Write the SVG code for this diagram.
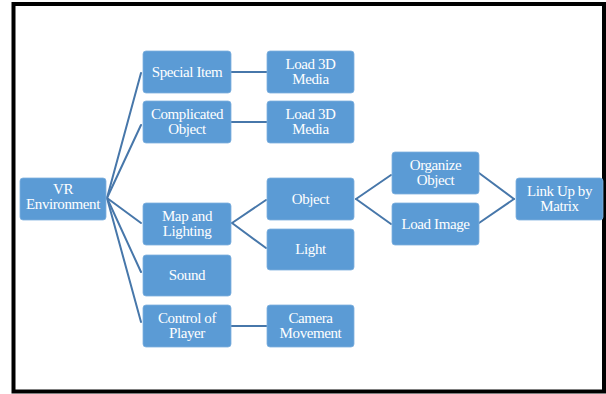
<svg xmlns="http://www.w3.org/2000/svg" width="606" height="394" viewBox="0 0 606 394">
<style>
.n rect{fill:#5B9BD5;stroke:#7fb0de;stroke-width:0.8}
.n text{fill:#ffffff;font-family:"Liberation Serif","Times New Roman",serif;font-size:15px;text-anchor:middle;letter-spacing:-0.4px}
.c line{stroke:#4777aa;stroke-width:2;stroke-linecap:round}
</style>
<rect x="0" y="0" width="606" height="394" fill="#ffffff"/>
<rect x="13.5" y="4" width="590.5" height="387.5" fill="none" stroke="#000000" stroke-width="4"/>
<g id="connectors" class="c">
<line x1="107" y1="198" x2="141" y2="73"/>
<line x1="107" y1="198" x2="141" y2="125"/>
<line x1="107" y1="198" x2="141" y2="223"/>
<line x1="107" y1="198" x2="141" y2="272"/>
<line x1="107" y1="198" x2="141" y2="322"/>
<line x1="231" y1="72" x2="267" y2="72"/>
<line x1="231" y1="122" x2="267" y2="122"/>
<line x1="231" y1="326" x2="267" y2="326"/>
<line x1="232" y1="223" x2="266" y2="200"/>
<line x1="232" y1="223" x2="266" y2="248"/>
<line x1="356" y1="199" x2="391" y2="175"/>
<line x1="356" y1="199" x2="391" y2="224"/>
<line x1="479" y1="173" x2="514" y2="199"/>
<line x1="479" y1="223" x2="514" y2="199"/>
</g>
<g id="vr" class="n"><rect x="20" y="178" width="86" height="42" rx="3"/><text x="63" y="194">VR</text><text x="63" y="209">Environment</text></g>
<g id="special" class="n"><rect x="143" y="51" width="88" height="42" rx="3"/><text x="187" y="76.5">Special Item</text></g>
<g id="complicated" class="n"><rect x="143" y="101" width="88" height="42" rx="3"/><text x="187" y="119">Complicated</text><text x="187" y="134">Object</text></g>
<g id="map" class="n"><rect x="143" y="203" width="88" height="42" rx="3"/><text x="187" y="221">Map and</text><text x="187" y="236">Lighting</text></g>
<g id="sound" class="n"><rect x="143" y="255" width="88" height="41" rx="3"/><text x="187" y="280">Sound</text></g>
<g id="control" class="n"><rect x="143" y="305" width="88" height="42" rx="3"/><text x="187" y="323">Control of</text><text x="187" y="338">Player</text></g>
<g id="load3d1" class="n"><rect x="267" y="51" width="87" height="42" rx="3"/><text x="310.5" y="69">Load 3D</text><text x="310.5" y="84">Media</text></g>
<g id="load3d2" class="n"><rect x="267" y="101" width="87" height="42" rx="3"/><text x="310.5" y="119">Load 3D</text><text x="310.5" y="134">Media</text></g>
<g id="object" class="n"><rect x="267" y="178" width="87" height="42" rx="3"/><text x="310.5" y="203.5">Object</text></g>
<g id="light" class="n"><rect x="267" y="229" width="87" height="41" rx="3"/><text x="310.5" y="254">Light</text></g>
<g id="camera" class="n"><rect x="267" y="305" width="87" height="42" rx="3"/><text x="310.5" y="323">Camera</text><text x="310.5" y="338">Movement</text></g>
<g id="organize" class="n"><rect x="392" y="152" width="87" height="42" rx="3"/><text x="435.5" y="170">Organize</text><text x="435.5" y="185">Object</text></g>
<g id="loadimage" class="n"><rect x="392" y="203" width="87" height="42" rx="3"/><text x="435.5" y="228.5">Load Image</text></g>
<g id="linkup" class="n"><rect x="516" y="178" width="87" height="42" rx="3"/><text x="559.5" y="196">Link Up by</text><text x="559.5" y="211">Matrix</text></g>
</svg>
